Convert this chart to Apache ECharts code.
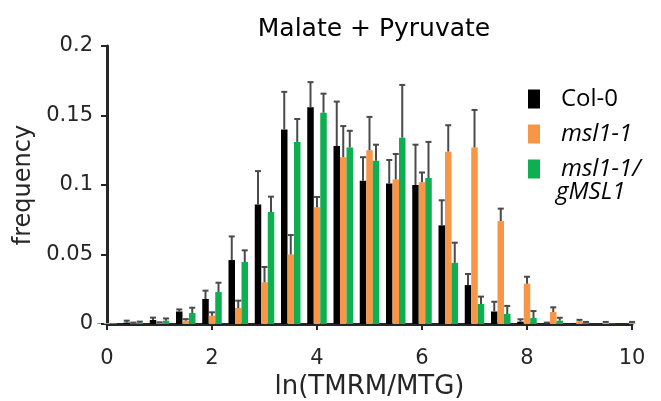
<!DOCTYPE html>
<html>
<head>
<meta charset="utf-8">
<script src="https://cdn.jsdelivr.net/npm/echarts@6/dist/echarts.min.js"></script>
<style>
  html, body { margin: 0; padding: 0; background: #fff; }
  #chart { width: 661px; height: 401px; }
</style>
</head>
<body>
<div id="chart"></div>
<script>
// ---- data ----
const bins = ["0", "0.5", "1", "1.5", "2", "2.5", "3", "3.5", "4", "4.5", "5",
              "5.5", "6", "6.5", "7", "7.5", "8", "8.5", "9", "9.5", "10"];

const col0 = [0.0003, 0.001, 0.0029, 0.009, 0.018, 0.046, 0.086, 0.140, 0.156, 0.128, 0.103,
              0.101, 0.100, 0.071, 0.028, 0.009, 0.0017, 0.0005, 0.0003, 0, 0];
const col0Err = [0.0005, 0.0024, 0.0046, 0.0105, 0.024, 0.063, 0.110, 0.167, 0.174, 0.160, 0.120,
                 0.118, 0.129, 0.089, 0.036, 0.016, 0.0034, 0.001, 0.0005, 0, 0];

const msl1 = [0.0007, 0.0005, 0.0008, 0.0024, 0.006, 0.0115, 0.030, 0.050, 0.084, 0.120, 0.125,
              0.104, 0.102, 0.124, 0.127, 0.074, 0.029, 0.0086, 0.002, 0.001, 0.001];
const msl1Err = [0.001, 0.001, 0.0012, 0.0035, 0.0084, 0.0168, 0.041, 0.064, 0.0914, 0.1424, 0.149,
                 0.1223, 0.109, 0.143, 0.154, 0.083, 0.034, 0.012, 0.003, 0.0015, 0.0015];

const gmsl1 = [0.0007, 0.001, 0.0024, 0.0079, 0.023, 0.0446, 0.0806, 0.131, 0.152, 0.127, 0.1175,
               0.134, 0.105, 0.044, 0.0144, 0.0072, 0.0043, 0.0024, 0.001, 0.0003, 0];
const gmsl1Err = [0.001, 0.0017, 0.004, 0.0117, 0.0297, 0.053, 0.0916, 0.1475, 0.1657, 0.139, 0.129,
                  0.172, 0.131, 0.0585, 0.0197, 0.013, 0.0093, 0.0045, 0.0015, 0.0005, 0];

const yTicks = [0, 0.05, 0.1, 0.15, 0.2];

const BAR_W = 6.5;
const AXIS_FONT = "DejaVu Sans";
const LEGEND_FONT = "Open Sans";

// error bar (upper whisker only) drawn next to its bar
function errorSeries(name, values, errs, shift) {
  return {
    name: name,
    type: "custom",
    z: 3,
    data: values.map((v, i) => [i, v, errs[i]]),
    renderItem: (params, api) => {
      const i = api.value(0);
      const lo = api.coord([i, api.value(1)]);
      const hi = api.coord([i, api.value(2)]);
      if (hi[1] >= lo[1] - 0.5) return null;
      const x = lo[0] + shift;
      return {
        type: "group",
        children: [
          { type: "line", shape: { x1: x, y1: lo[1], x2: x, y2: hi[1] },
            style: { stroke: "#4a4a4a", lineWidth: 2 } },
          { type: "line", shape: { x1: x - 3, y1: hi[1], x2: x + 3, y2: hi[1] },
            style: { stroke: "#4a4a4a", lineWidth: 2 } }
        ]
      };
    }
  };
}

const chart = echarts.init(document.getElementById("chart"));

chart.setOption({
  animation: false,
  title: {
    text: "Malate + Pyruvate",
    left: 369,
    top: 12,
    textAlign: "center",
    textStyle: { fontFamily: AXIS_FONT, fontSize: 25, fontWeight: "normal", color: "#000" }
  },
  legend: {
    orient: "vertical",
    left: 523,
    top: 82,
    itemWidth: 12,
    itemHeight: 19,
    itemGap: 11,
    icon: "rect",
    data: ["Col-0", "msl1-1", "msl1-1/gMSL1"],
    formatter: name => {
      if (name === "Col-0") return "{n|Col-0}";
      if (name === "msl1-1/gMSL1") return "{i|msl1-1/}";
      return "{i|" + name + "}";
    },
    textStyle: {
      padding: [0, 0, 0, 16],
      lineHeight: 19,
      rich: {
        n: { fontFamily: LEGEND_FONT, fontSize: 24, color: "#000", lineHeight: 19 },
        i: { fontFamily: LEGEND_FONT, fontSize: 24, fontStyle: "italic", color: "#000", lineHeight: 19 }
      }
    }
  },
  graphic: [{
    type: "text",
    x: 556,
    y: 192,
    style: {
      text: "gMSL1",
      font: "italic 24px 'Open Sans'",
      fill: "#000",
      verticalAlign: "middle"
    }
  }],
  grid: { left: 107, right: 29, top: 46, bottom: 77, outerBoundsMode: "none" },
  xAxis: {
    type: "category",
    data: bins,
    boundaryGap: false,
    name: "ln(TMRM/MTG)",
    nameLocation: "middle",
    nameGap: 48,
    nameTextStyle: { fontFamily: AXIS_FONT, fontSize: 26, color: "#262626" },
    axisLine: { lineStyle: { color: "#262626", width: 3 } },
    axisTick: { interval: 3, length: 6, lineStyle: { color: "#262626", width: 2 } },
    axisLabel: {
      interval: 3,
      margin: 24,
      fontFamily: AXIS_FONT,
      fontSize: 21,
      color: "#262626"
    },
    splitLine: { show: false }
  },
  yAxis: {
    type: "value",
    min: yTicks[0],
    max: yTicks[yTicks.length - 1],
    interval: 0.05,
    name: "frequency",
    nameLocation: "middle",
    nameGap: 70,
    nameTextStyle: { fontFamily: AXIS_FONT, fontSize: 24, color: "#262626" },
    axisLine: { show: true, lineStyle: { color: "#262626", width: 3 } },
    axisTick: { show: true, length: 6, lineStyle: { color: "#262626", width: 2 } },
    axisLabel: {
      margin: 14,
      fontFamily: AXIS_FONT,
      fontSize: 21,
      color: "#262626",
      formatter: v => String(+v.toFixed(2))
    },
    splitLine: { show: false }
  },
  series: [
    { name: "Col-0", type: "bar", data: col0, barWidth: BAR_W, barGap: "0%",
      itemStyle: { color: "#000000" } },
    { name: "msl1-1", type: "bar", data: msl1, barWidth: BAR_W, barGap: "0%",
      itemStyle: { color: "#F79646" } },
    { name: "msl1-1/gMSL1", type: "bar", data: gmsl1, barWidth: BAR_W, barGap: "0%",
      itemStyle: { color: "#0DAF50" } },
    errorSeries("Col-0", col0, col0Err, -BAR_W),
    errorSeries("msl1-1", msl1, msl1Err, 0),
    errorSeries("msl1-1/gMSL1", gmsl1, gmsl1Err, BAR_W)
  ]
});

window.addEventListener("resize", chart.resize);
</script>
</body>
</html>
